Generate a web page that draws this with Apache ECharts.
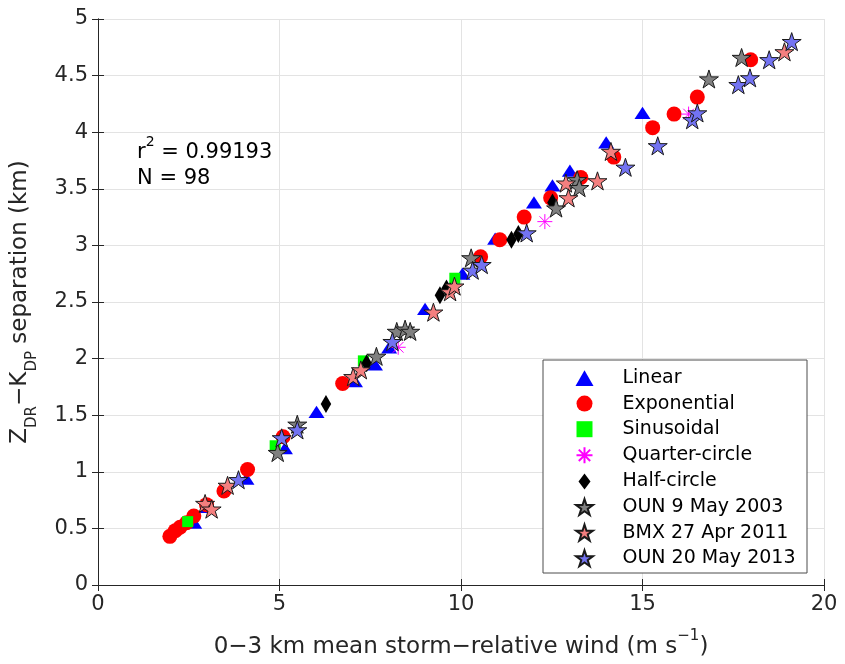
<!DOCTYPE html>
<html>
<head>
<meta charset="utf-8">
<script src="https://cdn.jsdelivr.net/npm/echarts@6/dist/echarts.min.js"></script>
<style>
  html, body { margin: 0; padding: 0; background: #fff; }
  #chart { width: 845px; height: 664px; }
</style>
</head>
<body>
<div id="chart"></div>
<script>
// Z_DR–K_DP separation vs. 0–3 km mean storm-relative wind
const linearX = [2.65, 3.00, 4.09, 5.15, 6.02, 7.08, 7.63, 8.02, 9.01, 10.04, 10.94, 12.01, 12.52, 13.00, 14.00, 15.00];
const linearY = [0.55, 0.69, 0.94, 1.21, 1.53, 1.80, 1.95, 2.10, 2.44, 2.75, 3.06, 3.38, 3.53, 3.66, 3.91, 4.17];

const expX = [1.98, 2.13, 2.26, 2.44, 2.64, 2.99, 3.47, 4.12, 5.10, 6.74, 10.54, 11.07, 11.74, 12.47, 13.30, 14.21, 15.28, 15.87, 16.51, 17.98];
const expY = [0.43, 0.48, 0.51, 0.55, 0.61, 0.71, 0.83, 1.02, 1.31, 1.78, 2.90, 3.05, 3.25, 3.42, 3.60, 3.78, 4.04, 4.16, 4.31, 4.64];

const sinX = [2.47, 4.88, 7.31, 9.83];
const sinY = [0.56, 1.23, 1.98, 2.71];

const quarterX = [8.27, 12.31, 16.27];
const quarterY = [2.10, 3.21, 4.16];

const halfX = [6.28, 7.40, 9.42, 9.60, 11.39, 11.58, 12.52];
const halfY = [1.60, 1.96, 2.56, 2.62, 3.05, 3.10, 3.38];

const oun2003X = [4.95, 5.49, 7.67, 8.23, 8.46, 8.60, 10.28, 12.62, 13.20, 13.26, 16.83, 17.73];
const oun2003Y = [1.17, 1.42, 2.02, 2.24, 2.26, 2.24, 2.89, 3.33, 3.58, 3.51, 4.47, 4.66];

const bmx2011X = [2.95, 3.13, 3.57, 7.03, 7.24, 9.24, 9.70, 9.82, 12.89, 12.96, 13.76, 14.13, 18.91];
const bmx2011Y = [0.72, 0.67, 0.88, 1.84, 1.90, 2.41, 2.59, 2.64, 3.55, 3.42, 3.57, 3.83, 4.71];

const oun2013X = [3.87, 5.06, 5.49, 8.11, 10.32, 10.57, 11.81, 14.53, 15.42, 16.37, 16.51, 17.64, 17.96, 18.49, 19.11];
const oun2013Y = [0.93, 1.30, 1.37, 2.15, 2.78, 2.83, 3.11, 3.69, 3.88, 4.11, 4.17, 4.42, 4.48, 4.64, 4.80];

const seriesNames = ['Linear', 'Exponential', 'Sinusoidal', 'Quarter-circle', 'Half-circle',
  'OUN 9 May 2003', 'BMX 27 Apr 2011', 'OUN 20 May 2013'];

const xTicks = [0, 5, 10, 15, 20];
const yTicks = [0, 0.5, 1, 1.5, 2, 2.5, 3, 3.5, 4, 4.5, 5];

const rSquared = '0.99193';
const nPoints = 98;

// marker shapes
const TRI = 'path://M0,-7L8,7L-8,7Z';
const STAR = 'path://M0,-10L2.245,-3.09L9.511,-3.09L3.633,1.18L5.878,8.09L0,3.82L-5.878,8.09L-3.633,1.18L-9.511,-3.09L-2.245,-3.09Z';
const DIAMOND = 'path://M0,-8L6,0L0,8L-6,0Z';
const SQUARE = 'path://M-5,-5L5,-5L5,5L-5,5Z';
const ASTER = 'path://M0,-8L0,8M-8,0L8,0M-5.7,-5.7L5.7,5.7M-5.7,5.7L5.7,-5.7';

const FONT = 'DejaVu Sans';
const INK = '#262626';

function pairs(xs, ys) { return xs.map((x, i) => [x, ys[i]]); }

const chart = echarts.init(document.getElementById('chart'), null, { renderer: 'canvas' });

function scatter(name, xs, ys, symbol, size, itemStyle) {
  return {
    type: 'scatter', name, data: pairs(xs, ys), symbol, symbolSize: size,
    symbolKeepAspect: true, itemStyle: Object.assign({ opacity: 1 }, itemStyle),
    emphasis: { disabled: true }, animation: false
  };
}

const starBorder = { borderColor: '#1a1a1a', borderWidth: 1 };

const axisCommon = {
  type: 'value',
  axisLine: { show: true, lineStyle: { color: INK, width: 1 } },
  axisTick: { show: true, inside: true, length: 6, lineStyle: { color: INK } },
};

chart.setOption({
  backgroundColor: '#ffffff',
  animation: false,
  textStyle: { fontFamily: FONT },
  grid: { left: 98, top: 19, width: 726, height: 572, containLabel: false },
  xAxis: [
    Object.assign({}, axisCommon, {
      position: 'bottom', min: xTicks[0], max: xTicks[xTicks.length - 1], interval: 5,
      splitLine: { show: true, lineStyle: { color: '#e3e3e3' } },
      axisLabel: { fontSize: 21, color: INK, margin: 9, fontFamily: FONT },
      name: '{n|0\u22123 km mean storm\u2212relative wind (m s}{sup|\u22121}{n|)}',
      nameLocation: 'middle', nameGap: 44,
      nameTextStyle: {
        rich: {
          n: { fontSize: 23, color: INK, fontFamily: FONT, lineHeight: 30, verticalAlign: 'bottom' },
          sup: { fontSize: 15, color: INK, fontFamily: FONT, lineHeight: 30, verticalAlign: 'top' }
        }
      }
    }),
    Object.assign({}, axisCommon, {
      position: 'top', min: 0, max: 20, interval: 5,
      splitLine: { show: false }, axisLabel: { show: false }
    })
  ],
  yAxis: [
    Object.assign({}, axisCommon, {
      position: 'left', min: yTicks[0], max: yTicks[yTicks.length - 1], interval: 0.5,
      splitLine: { show: true, lineStyle: { color: '#e3e3e3' } },
      axisLabel: { fontSize: 21, color: INK, margin: 10, fontFamily: FONT },
      name: '{n|Z}{s|DR}{n|\u2212K}{s|DP}{n| separation (km)}',
      nameLocation: 'middle', nameGap: 58,
      nameTextStyle: {
        rich: {
          n: { fontSize: 23, color: INK, fontFamily: FONT, lineHeight: 31, verticalAlign: 'top' },
          s: { fontSize: 15, color: INK, fontFamily: FONT, lineHeight: 31, verticalAlign: 'bottom' }
        }
      }
    }),
    Object.assign({}, axisCommon, {
      position: 'right', min: 0, max: 5, interval: 0.5,
      splitLine: { show: false }, axisLabel: { show: false }
    })
  ],
  legend: {
    orient: 'vertical', left: 543, top: 360,
    padding: [8, 6, 6, 31], itemWidth: 18, itemHeight: 16, itemGap: 5.6,
    data: [
      { name: seriesNames[0] },
      { name: seriesNames[1] },
      { name: seriesNames[2], icon: SQUARE },
      { name: seriesNames[3] },
      { name: seriesNames[4] },
      { name: seriesNames[5] },
      { name: seriesNames[6] },
      { name: seriesNames[7] }
    ],
    textStyle: { fontSize: 19, color: '#000', fontFamily: FONT, lineHeight: 20, padding: [0, 0, 0, 24] },
    selectedMode: false, z: 10
  },
  graphic: [
    {
      type: 'rect', z: 9, silent: true,
      shape: { x: 543, y: 360, width: 264, height: 213 },
      style: { fill: '#ffffff', stroke: '#4d4d4d', lineWidth: 1 }
    },
    {
      type: 'text', left: 137, top: 135, z: 10,
      style: {
        text: '{n|r}{sup|2}{n| = ' + rSquared + '}',
        rich: {
          n: { fontSize: 21, fill: '#000', fontFamily: FONT, lineHeight: 28, verticalAlign: 'bottom' },
          sup: { fontSize: 14, fill: '#000', fontFamily: FONT, lineHeight: 28, verticalAlign: 'top' }
        }
      }
    },
    {
      type: 'text', left: 137, top: 168, z: 10,
      style: { text: 'N = ' + nPoints, fontSize: 21, fill: '#000', fontFamily: FONT }
    }
  ],
  series: [
    scatter(seriesNames[0], linearX, linearY, TRI, [16, 14], { color: '#0000ff' }),
    scatter(seriesNames[1], expX, expY, 'circle', 15, { color: '#ff0000' }),
    scatter(seriesNames[2], sinX, sinY, SQUARE, 11, { color: '#00ff00' }),
    scatter(seriesNames[3], quarterX, quarterY, ASTER, 15, { color: 'none', borderColor: '#ff00ff', borderWidth: 1 }),
    scatter(seriesNames[4], halfX, halfY, DIAMOND, [14, 18], { color: '#000000' }),
    scatter(seriesNames[5], oun2003X, oun2003Y, STAR, 19, Object.assign({ color: '#808080' }, starBorder)),
    scatter(seriesNames[6], bmx2011X, bmx2011Y, STAR, 19, Object.assign({ color: '#f47f7f' }, starBorder)),
    scatter(seriesNames[7], oun2013X, oun2013Y, STAR, 19, Object.assign({ color: '#7373f2' }, starBorder))
  ]
});
</script>
</body>
</html>
